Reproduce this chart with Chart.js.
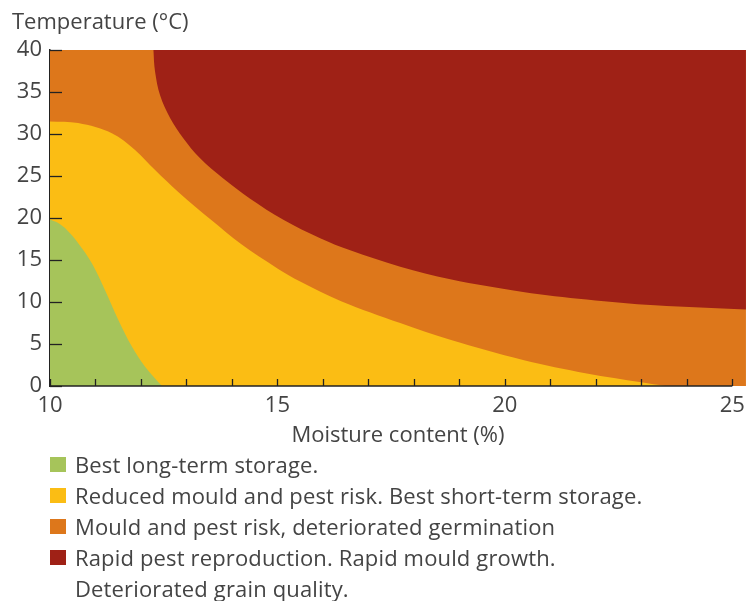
<!DOCTYPE html>
<html>
<head>
<meta charset="utf-8">
<script src="https://cdn.jsdelivr.net/npm/chart.js@4.4.0/dist/chart.umd.min.js"></script>
<style>
  body { margin: 0; background: #fff; font-family: "Open Sans", sans-serif; color: #444; }
  #wrap { position: relative; width: 752px; height: 601px; }
  #chart { position: absolute; left: 0; top: 0; }
  #legend { position: absolute; left: 50px; top: 449px; font-size: 22px; line-height: 31px; letter-spacing: 0.15px; }
  .item { display: flex; align-items: flex-start; }
  .box { width: 16px; height: 15px; margin-top: 8px; margin-right: 9px; flex: none; }
</style>
</head>
<body>
<div id="wrap">
  <canvas id="chart" width="752" height="450"></canvas>
  <div id="legend"></div>
</div>
<script>
// Grain storage zones: temperature (°C) against moisture content (%)

const xLabelTicks = [10, 15, 20, 25];
const xMinorTicks = [10, 11, 12, 13, 14, 15, 16, 17, 18, 19, 20, 21, 22, 23, 24, 25];
const yTicks = [0, 5, 10, 15, 20, 25, 30, 35, 40];

// whole plot background (mould and pest risk)
const orangeX = [10, 25.3];
const orangeY = [40, 40];

// lower edge of the rapid pest / mould zone (filled upwards)
const redX = [12.27, 12.31, 12.42, 12.64, 12.93, 13.3, 13.81, 14.4, 15.13, 15.94, 16.6, 17.7, 18.8, 20.4, 21.8, 23.3, 25.3];
const redY = [40, 37.4, 34.6, 31.9, 29.5, 27.1, 24.7, 22.3, 19.8, 17.6, 16.15, 14.2, 12.7, 11.2, 10.3, 9.6, 9.1];

// upper edge of the reduced risk zone
const yellowX = [10, 10.62, 11.36, 11.87, 12.31, 12.82, 13.56, 14.2, 15.0, 15.5, 16.4, 17.7, 18.8, 20.4, 21.8, 23.0, 23.53];
const yellowY = [31.5, 31.3, 30.1, 28.1, 25.7, 23.1, 19.7, 16.9, 14.0, 12.45, 10.1, 7.5, 5.5, 3.1, 1.5, 0.45, 0];

// upper edge of the best long-term storage zone
const greenX = [10, 10.15, 10.33, 10.62, 10.92, 11.21, 11.5, 11.8, 12.09, 12.46];
const greenY = [19.8, 19.5, 18.8, 17.0, 14.6, 11.4, 7.9, 4.7, 2.3, 0];

const legendLabels = [
    ['Best long-term storage.'],
    ['Reduced mould and pest risk. Best short-term storage.'],
    ['Mould and pest risk, deteriorated germination'],
    ['Rapid pest reproduction. Rapid mould growth.', 'Deteriorated grain quality.']
];
const colors = ['#a6c45a', '#fbbd14', '#dd771b', '#9f2116'];

const textColor = '#444';

function pts(xs, ys) {
    return xs.map((x, i) => ({ x: x, y: ys[i] }));
}

function zone(xs, ys, color, fill, order) {
    return {
        data: pts(xs, ys),
        backgroundColor: color,
        borderColor: 'rgba(0,0,0,0)',
        borderWidth: 0,
        pointRadius: 0,
        tension: 0.35,
        fill: fill,
        order: order
    };
}

const axisMarks = {
    id: 'axisMarks',
    afterDatasetsDraw: chart => {
        const { ctx, chartArea: { left, bottom } } = chart;
        const xs = chart.scales.x, ys = chart.scales.y;
        ctx.save();
        ctx.strokeStyle = '#222';
        ctx.lineWidth = 1.5;
        // bottom axis line, 10 to 25
        ctx.beginPath();
        ctx.moveTo(left, bottom);
        ctx.lineTo(xs.getPixelForValue(25), bottom);
        ctx.stroke();
        // inward ticks
        ctx.lineWidth = 1.3;
        xMinorTicks.forEach(v => {
            const px = Math.round(xs.getPixelForValue(v)) + 0.5;
            ctx.beginPath();
            ctx.moveTo(px, bottom);
            ctx.lineTo(px, bottom - 7);
            ctx.stroke();
        });
        yTicks.forEach(v => {
            const py = Math.round(ys.getPixelForValue(v)) + 0.5;
            ctx.beginPath();
            ctx.moveTo(left, py);
            ctx.lineTo(left + 12, py);
            ctx.stroke();
        });
        // axis title at top left
        ctx.fillStyle = textColor;
        ctx.font = '22px "Open Sans"';
        ctx.textAlign = 'left';
        ctx.textBaseline = 'alphabetic';
        ctx.fillText('Temperature (°C)', 12, 29);
        ctx.restore();
    }
};

new Chart(document.getElementById('chart'), {
    type: 'line',
    data: {
        datasets: [
            zone(greenX, greenY, colors[0], 'origin', 1),
            zone(yellowX, yellowY, colors[1], 'origin', 2),
            zone(redX, redY, colors[3], 'end', 3),
            zone(orangeX, orangeY, colors[2], 'origin', 4)
        ]
    },
    options: {
        responsive: false,
        animation: false,
        layout: { padding: { top: 50, right: 6, left: 0, bottom: 0 } },
        plugins: { legend: { display: false }, tooltip: { enabled: false } },
        scales: {
            x: {
                type: 'linear',
                min: 10,
                max: 25.3,
                afterBuildTicks: s => { s.ticks = xLabelTicks.map(v => ({ value: v })); },
                afterFit: s => { s.height = 64; },
                grid: { display: false, drawTicks: false },
                border: { display: false },
                ticks: { color: textColor, font: { family: 'Open Sans', size: 22 }, padding: 7, maxRotation: 0 },
                title: {
                    display: true,
                    text: 'Moisture content (%)',
                    color: textColor,
                    font: { family: 'Open Sans', size: 22 },
                    padding: { top: 0, bottom: 1 }
                }
            },
            y: {
                min: 0,
                max: 40,
                afterBuildTicks: s => { s.ticks = yTicks.map(v => ({ value: v })); },
                afterFit: s => { s.width = 50; },
                grid: { display: false, drawTicks: false },
                border: { display: true, color: '#222', width: 1.5 },
                ticks: { color: textColor, font: { family: 'Open Sans', size: 22 }, padding: 8 }
            }
        }
    },
    plugins: [axisMarks]
});

// legend
const legend = document.getElementById('legend');
legendLabels.forEach((lines, i) => {
    const item = document.createElement('div');
    item.className = 'item';
    const box = document.createElement('span');
    box.className = 'box';
    box.style.background = colors[i];
    const txt = document.createElement('span');
    txt.innerHTML = lines.join('<br>');
    item.appendChild(box);
    item.appendChild(txt);
    legend.appendChild(item);
});
</script>
</body>
</html>
